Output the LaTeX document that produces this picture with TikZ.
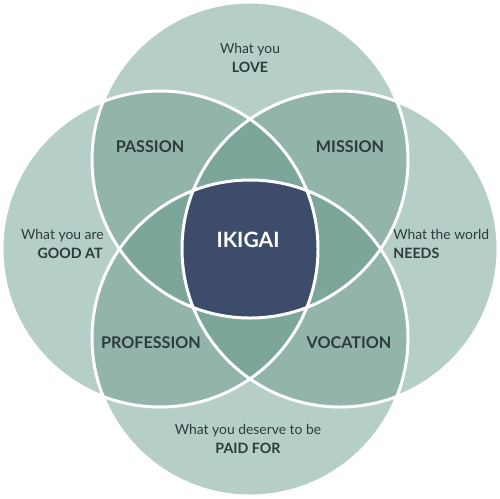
\documentclass[tikz,border=0pt]{standalone}
\usepackage{fontspec}
\setmainfont{Lato}
\definecolor{sageone}{HTML}{B5CEC7}
\definecolor{sagetwo}{HTML}{93B4AB}
\definecolor{sagethree}{HTML}{7BA699}
\definecolor{ikiblue}{HTML}{3E4C6B}
\definecolor{inkgrey}{HTML}{2E3B3C}
\begin{document}
\begin{tikzpicture}[x=0.02cm,y=-0.02cm,
    whatline/.style={text=inkgrey,font=\fontsize{7.9}{10}\selectfont,inner sep=0pt},
    keyword/.style={text=inkgrey,font=\fontsize{8.1}{10}\selectfont\bfseries,inner sep=0pt},
    overlap/.style={text=inkgrey,font=\fontsize{9.2}{11}\selectfont\bfseries,inner sep=0pt}]
        \useasboundingbox (0,0) rectangle (500,498);
        \def\rad{158}
        \coordinate (top) at (250,160);
        \coordinate (left) at (160,249);
        \coordinate (right) at (340,249);
        \coordinate (bot) at (250,338);
        % one circle
        \fill[sageone] (top) circle (\rad) (left) circle (\rad) (right) circle (\rad) (bot) circle (\rad);
        % two circles
        \begin{scope}
            \clip (top) circle (\rad);
            \fill[sagetwo] (left) circle (\rad) (right) circle (\rad);
        \end{scope}
        \begin{scope}
            \clip (bot) circle (\rad);
            \fill[sagetwo] (left) circle (\rad) (right) circle (\rad);
        \end{scope}
        % three circles
        \begin{scope}
            \clip (top) circle (\rad);
            \clip (left) circle (\rad);
            \fill[sagethree] (right) circle (\rad) (bot) circle (\rad);
        \end{scope}
        \begin{scope}
            \clip (right) circle (\rad);
            \clip (bot) circle (\rad);
            \fill[sagethree] (top) circle (\rad) (left) circle (\rad);
        \end{scope}
        % all four
        \begin{scope}
            \clip (top) circle (\rad);
            \clip (left) circle (\rad);
            \clip (right) circle (\rad);
            \fill[ikiblue] (bot) circle (\rad);
        \end{scope}
        \draw[white,line width=1.7pt] (top) circle (\rad) (left) circle (\rad) (right) circle (\rad) (bot) circle (\rad);
        \node[whatline,anchor=base] (lovea) at (250,53) {What you};
        \node[keyword,anchor=base] (loveb) at (250,72) {LOVE};
        \node[whatline,anchor=base east] (gooda) at (104,239) {What you are};
        \node[keyword,anchor=base east] (goodb) at (103,258) {GOOD AT};
        \node[whatline,anchor=base west] (needsa) at (393,239) {What the world};
        \node[keyword,anchor=base west] (needsb) at (393,258) {NEEDS};
        \node[whatline,anchor=base] (paida) at (248,434) {What you deserve to be};
        \node[keyword,anchor=base] (paidb) at (248,453) {PAID FOR};
        \node[overlap,anchor=base] (passion) at (150,152) {PASSION};
        \node[overlap,anchor=base] (mission) at (350,152) {MISSION};
        \node[overlap,anchor=base] (profession) at (151,348) {PROFESSION};
        \node[overlap,anchor=base] (vocation) at (349,348) {VOCATION};
        \node[text=white,font=\fontsize{12}{14}\selectfont\bfseries,inner sep=0pt,anchor=base] (ikigai) at (248,247) {IKIGAI};
\end{tikzpicture}
\end{document}
